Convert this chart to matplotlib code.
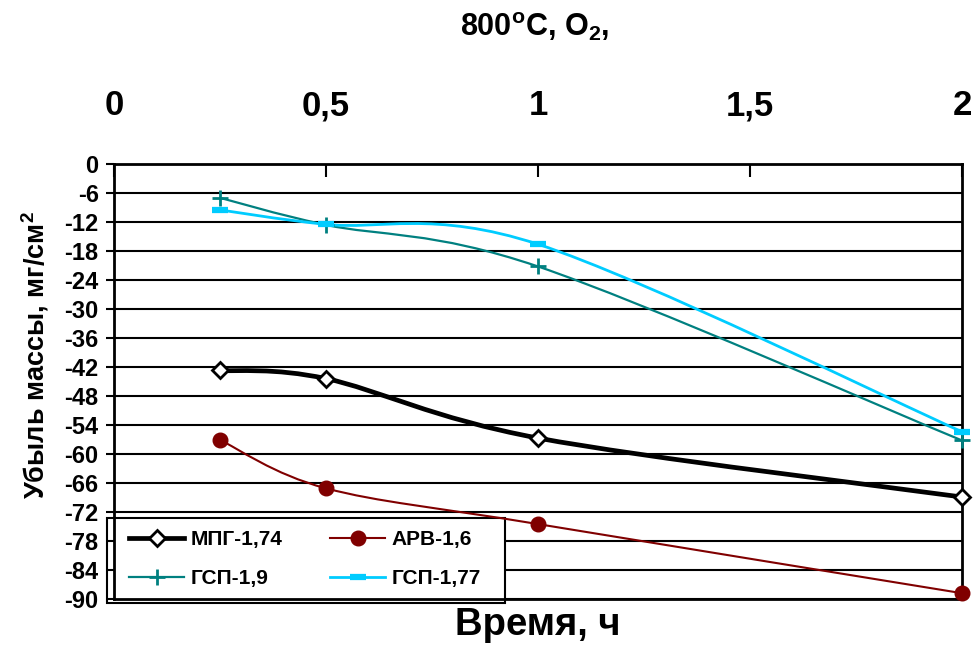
import numpy as np
import matplotlib
matplotlib.use("Agg")
import matplotlib.pyplot as plt
from matplotlib.path import Path
from matplotlib.patches import PathPatch, Rectangle
from matplotlib.lines import Line2D

plt.rcParams['font.family'] = ['Liberation Sans', 'DejaVu Sans']
plt.rcParams['font.weight'] = 'bold'
plt.rcParams['mathtext.fontset'] = 'custom'
plt.rcParams['mathtext.rm'] = 'Liberation Sans:bold'
plt.rcParams['mathtext.bf'] = 'Liberation Sans:bold'
plt.rcParams['mathtext.default'] = 'bf'

# time, h
hours = [0.25, 0.5, 1, 2]

# mass loss, mg/cm2
mpg_174 = [-42.7, -44.4, -56.7, -68.9]
arv_16 = [-57.1, -67.1, -74.5, -88.8]
gsp_19 = [-7.0, -12.6, -21.2, -57.2]
gsp_177 = [-9.5, -12.5, -16.6, -55.4]

x_ticks = [0, 0.5, 1, 1.5, 2]
x_tick_labels = ["0", "0,5", "1", "1,5", "2"]
y_ticks = list(range(0, -91, -6))


def smooth_path(x, y):
    """Excel-like smoothed line as cubic bezier segments through the points"""
    pts = np.column_stack([x, y]).astype(float)
    n = len(pts)
    verts = [pts[0]]
    codes = [Path.MOVETO]
    for i in range(n - 1):
        p0 = pts[max(i - 1, 0)]
        p1 = pts[i]
        p2 = pts[i + 1]
        p3 = pts[min(i + 2, n - 1)]
        verts += [p1 + (p2 - p0) / 6, p2 - (p3 - p1) / 6, p2]
        codes += [Path.CURVE4] * 3
    return Path(verts, codes)


fig = plt.figure(figsize=(9.75, 6.48), dpi=100)
ax = fig.add_axes([114 / 975, 1 - 599 / 648, 848 / 975, 435 / 648])

series = [
    (mpg_174, "МПГ-1,74", "black", 3.4, dict(marker="D", ms=8.5, mfc="white", mec="black", mew=2)),
    (arv_16, "АРВ-1,6", "#800000", 1.5, dict(marker="o", ms=10.5, mfc="#800000", mec="#800000")),
    (gsp_19, "ГСП-1,9", "#008080", 1.6, dict(marker="+", ms=11, mec="#008080", mew=2)),
    (gsp_177, "ГСП-1,77", "#00CCFF", 2.0, dict(marker="_", ms=11, mec="#00CCFF", mew=4.5)),
]

handles = {}
for vals, name, col, lw, mk in series:
    ax.add_patch(PathPatch(smooth_path(hours, vals), fill=False, ec=col, lw=lw,
                           zorder=3, clip_on=False, capstyle="round"))
    ax.plot(hours, vals, ls="none", zorder=4, clip_on=False, **mk)
    handles[name] = Line2D([], [], color=col, lw=lw, label=name, **mk)

# horizontal grid
for v in y_ticks:
    ax.axhline(v, color="black", lw=1.5, zorder=1)

ax.set_xlim(0, 2)
ax.set_ylim(-90, 0)
ax.set_yticks(y_ticks)
ax.set_yticklabels([str(v) for v in y_ticks], fontsize=17, fontweight="bold")
ax.xaxis.tick_top()
ax.set_xticks(x_ticks)
ax.set_xticklabels(x_tick_labels, fontsize=25, fontweight="bold")
ax.tick_params(axis="x", direction="in", length=9, width=1.5, pad=30)
ax.tick_params(axis="y", direction="out", length=6, width=1.5, pad=5)
ax.xaxis.set_zorder(2.5)
ax.yaxis.set_zorder(2.5)
for sp in ax.spines.values():
    sp.set_linewidth(2)

fig.text(535 / 975, 1 - 27 / 648, "800$^{o}$C, O$_{2}$,", ha="center", va="center", fontsize=22)
fig.text(538 / 975, 1 - 625 / 648, "Время, ч", ha="center", va="center", fontsize=27.5, fontweight="bold")
fig.text(35 / 975, 1 - 355 / 648, "Убыль массы, мг/см$^{2}$", ha="center", va="center",
         rotation=90, fontsize=19.5, fontweight="bold")

# legend box
ax.add_patch(Rectangle((107 / 975, 1 - 603 / 648), 398 / 975, 85 / 648, transform=fig.transFigure,
                       fc="white", ec="black", lw=1.5, zorder=2, clip_on=False))
order = ["МПГ-1,74", "ГСП-1,9", "АРВ-1,6", "ГСП-1,77"]
leg = ax.legend(handles=[handles[k] for k in order], ncol=2, loc="upper left",
                bbox_to_anchor=(129 / 975, 1 - 530 / 648), bbox_transform=fig.transFigure,
                borderaxespad=0, borderpad=0, frameon=False, handlelength=2.65,
                prop=dict(size=15, weight="bold"), labelspacing=0.95,
                handletextpad=0.3, columnspacing=2.3)
leg.set_zorder(6)

fig.savefig("out.png", dpi=100)
